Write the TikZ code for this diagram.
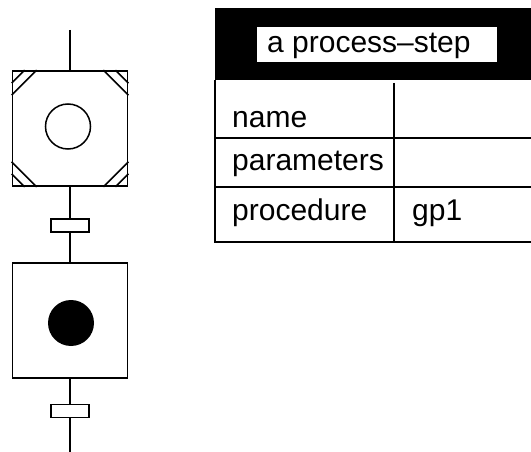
\documentclass[tikz,border=0pt]{standalone}
\usepackage{fontspec}
\setmainfont{Liberation Sans}
\usepackage{tikz}
\usetikzlibrary{
	positioning,
	calc
}
\tikzset{
	stepbox/.style={draw,line width=1.7pt,minimum size=115pt,inner sep=0pt},
	transbar/.style={draw,line width=1.5pt,minimum width=38pt,minimum height=13pt,inner sep=0pt},
	link/.style={line width=1.7pt},
	celltext/.style={anchor=base west,inner sep=0pt,font=\fontsize{30}{36}\selectfont}
}

\begin{document}
\begin{tikzpicture}[x=1pt,y=-1pt]
		\useasboundingbox (0,0) rectangle (531,452);
		
		% Steps and transitions
		\node[stepbox] (step1) at (70,128.5) {};
		\node[transbar] (trans1) at (70,225.5) {};
		\node[stepbox] (step2) at (70,320.5) {};
		\node[transbar] (trans2) at (70,411) {};
		\coordinate (top) at (70,30);
		\coordinate (bottom) at (70,452);
		
		\draw[link] (top) -- (step1);
		\draw[link] (step1) -- (trans1);
		\draw[link] (trans1) -- (step2);
		\draw[link] (step2) -- (trans2);
		\draw[link] (trans2) -- (bottom);
		
		% Corner marks
		\foreach \c/\dx/\dy in {north west/1/1,north east/-1/1,south west/1/-1,south east/-1/-1}{
			\draw[line width=1.5pt] ($(step1.\c)+(0,13*\dy)$) -- ($(step1.\c)+(13*\dx,0)$);
			\draw[line width=1.5pt] ($(step1.\c)+(0,25*\dy)$) -- ($(step1.\c)+(25*\dx,0)$);
		}
		
		% Tokens
		\node[draw,circle,line width=1.5pt,minimum size=45pt,inner sep=0pt] (ring) at (68,126.5) {};
		\node[fill=black,circle,minimum size=46pt,inner sep=0pt] (dot) at (71,323) {};
		
		% Table
		\fill[black] (215,8) rectangle (531,80);
		\node[fill=white,minimum width=240pt,minimum height=35pt,inner sep=0pt] (head) at (377,44.5) {};
		\node[celltext] (title) at (267,53) {a process–step};
		\draw[line width=1.5pt] (215,80) -- (215,242) -- (531,242);
		\draw[line width=1.5pt] (215,138) -- (531,138);
		\draw[line width=1.5pt] (215,187) -- (531,187);
		\draw[line width=1.5pt] (394,83) -- (394,242);
		\node[celltext] (lblname) at (232,128) {name};
		\node[celltext] (lblparams) at (232,171) {parameters};
		\node[celltext] (lblproc) at (232,220) {procedure};
		\node[celltext] (lblgp) at (412,220) {gp1};
		
	\end{tikzpicture}
\end{document}
